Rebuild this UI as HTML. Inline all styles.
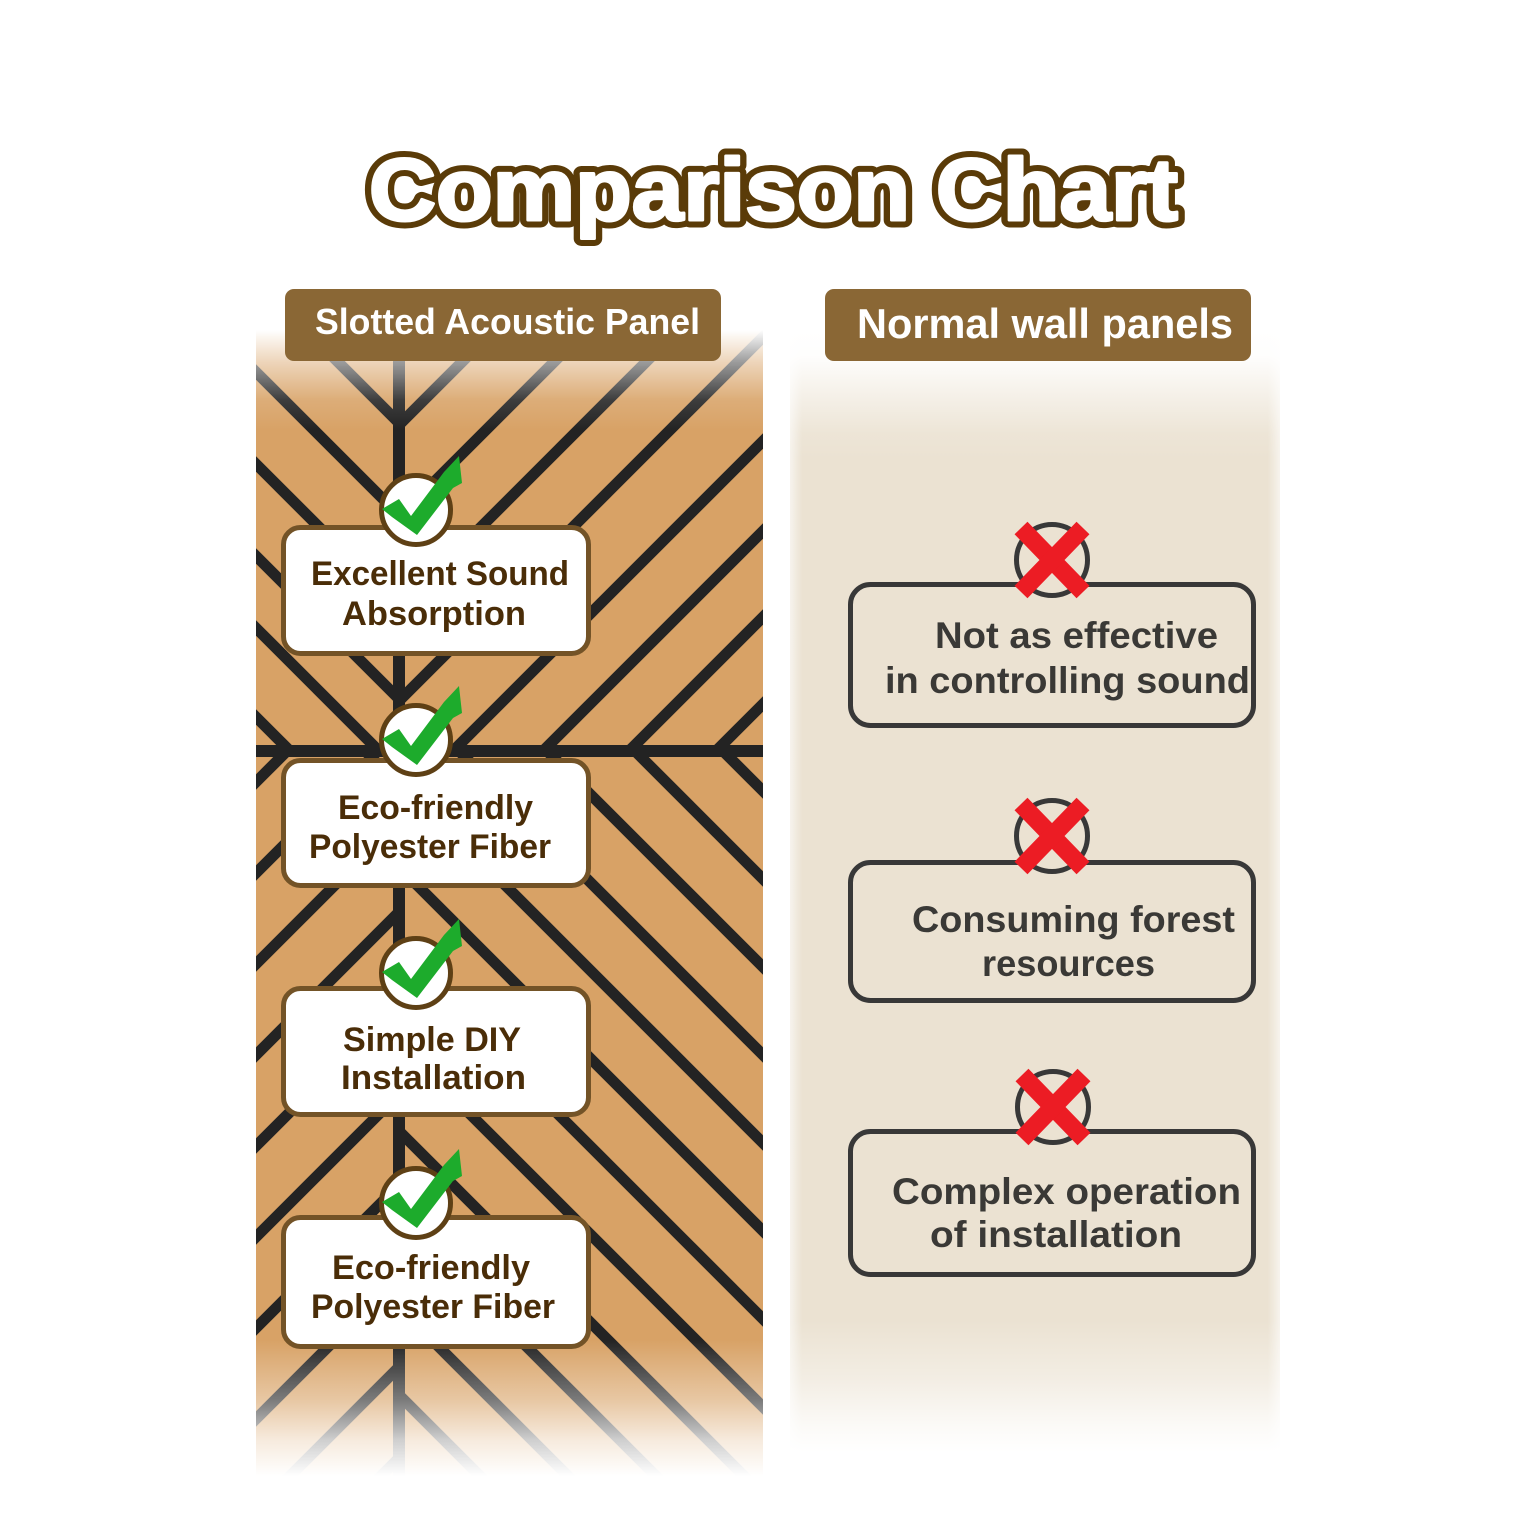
<!DOCTYPE html>
<html><head><meta charset="utf-8">
<style>
html,body{margin:0;padding:0;background:#fff;width:1536px;height:1536px;overflow:hidden;}
svg{display:block;}
text{font-family:"Liberation Sans","DejaVu Sans",sans-serif;font-weight:bold;}
</style></head><body>
<svg width="1536" height="1536" viewBox="0 0 1536 1536" xmlns="http://www.w3.org/2000/svg">
<defs>
 <clipPath id="tl"><rect x="256" y="320" width="143" height="431"/></clipPath>
 <clipPath id="tr"><rect x="399" y="320" width="364" height="431"/></clipPath>
 <clipPath id="bl"><rect x="256" y="751" width="143" height="740"/></clipPath>
 <clipPath id="br"><rect x="399" y="751" width="364" height="740"/></clipPath>
 <linearGradient id="ltop" gradientUnits="userSpaceOnUse" x1="0" y1="300" x2="0" y2="440">
  <stop offset="0" stop-color="#fff" stop-opacity="1"/>
  <stop offset="0.214" stop-color="#fff" stop-opacity="1"/>
  <stop offset="0.443" stop-color="#fff" stop-opacity="0.55"/>
  <stop offset="0.714" stop-color="#fff" stop-opacity="0.12"/>
  <stop offset="0.93" stop-color="#fff" stop-opacity="0"/>
 </linearGradient>
 <linearGradient id="lbot" gradientUnits="userSpaceOnUse" x1="0" y1="1340" x2="0" y2="1500">
  <stop offset="0" stop-color="#fff" stop-opacity="0"/>
  <stop offset="0.375" stop-color="#fff" stop-opacity="0.4"/>
  <stop offset="0.625" stop-color="#fff" stop-opacity="0.78"/>
  <stop offset="0.85" stop-color="#fff" stop-opacity="1"/>
  <stop offset="1" stop-color="#fff" stop-opacity="1"/>
 </linearGradient>
 <linearGradient id="rtop" gradientUnits="userSpaceOnUse" x1="0" y1="330" x2="0" y2="460">
  <stop offset="0" stop-color="#fff" stop-opacity="1"/>
  <stop offset="0.2" stop-color="#fff" stop-opacity="0.95"/>
  <stop offset="0.5" stop-color="#fff" stop-opacity="0.5"/>
  <stop offset="0.8" stop-color="#fff" stop-opacity="0.1"/>
  <stop offset="1" stop-color="#fff" stop-opacity="0"/>
 </linearGradient>
 <linearGradient id="rbot" gradientUnits="userSpaceOnUse" x1="0" y1="1320" x2="0" y2="1470">
  <stop offset="0" stop-color="#fff" stop-opacity="0"/>
  <stop offset="0.4" stop-color="#fff" stop-opacity="0.4"/>
  <stop offset="0.7" stop-color="#fff" stop-opacity="0.82"/>
  <stop offset="0.88" stop-color="#fff" stop-opacity="1"/>
  <stop offset="1" stop-color="#fff" stop-opacity="1"/>
 </linearGradient>
 <linearGradient id="redge" gradientUnits="userSpaceOnUse" x1="790" y1="0" x2="1280" y2="0">
  <stop offset="0" stop-color="#fff" stop-opacity="0.6"/>
  <stop offset="0.025" stop-color="#fff" stop-opacity="0"/>
  <stop offset="0.975" stop-color="#fff" stop-opacity="0"/>
  <stop offset="1" stop-color="#fff" stop-opacity="0.6"/>
 </linearGradient>
</defs>

<rect width="1536" height="1536" fill="#fff"/>

<!-- LEFT WOOD PANEL -->
<rect x="256" y="320" width="507" height="1170" fill="#d8a266"/>
<g stroke="#232323" stroke-width="11" fill="none">
 <g clip-path="url(#tl)">
  <line x1="200" y1="132" x2="420" y2="352"/>
  <line x1="200" y1="224" x2="420" y2="444"/>
  <line x1="200" y1="316" x2="420" y2="536"/>
  <line x1="200" y1="408" x2="420" y2="628"/>
  <line x1="200" y1="500" x2="420" y2="720"/>
  <line x1="200" y1="572" x2="420" y2="792"/>
  <line x1="200" y1="661" x2="420" y2="881"/>
 </g>
 <g clip-path="url(#tr)">
  <line x1="380" y1="444" x2="800" y2="24"/>
  <line x1="380" y1="536" x2="800" y2="116"/>
  <line x1="380" y1="628" x2="800" y2="208"/>
  <line x1="380" y1="720" x2="800" y2="300"/>
  <line x1="380" y1="824" x2="800" y2="404"/>
  <line x1="380" y1="914" x2="800" y2="494"/>
  <line x1="380" y1="1000" x2="800" y2="580"/>
  <line x1="380" y1="1087" x2="800" y2="667"/>
 </g>
 <g clip-path="url(#br)">
  <line x1="380" y1="408" x2="800" y2="828"/>
  <line x1="380" y1="496" x2="800" y2="916"/>
  <line x1="380" y1="584" x2="800" y2="1004"/>
  <line x1="380" y1="672" x2="800" y2="1092"/>
  <line x1="380" y1="760" x2="800" y2="1180"/>
  <line x1="380" y1="848" x2="800" y2="1268"/>
  <line x1="380" y1="936" x2="800" y2="1356"/>
  <line x1="380" y1="1024" x2="800" y2="1444"/>
  <line x1="380" y1="1112" x2="768" y2="1500"/>
  <line x1="380" y1="1200" x2="680" y2="1500"/>
  <line x1="380" y1="1288" x2="592" y2="1500"/>
  <line x1="380" y1="1376" x2="504" y2="1500"/>
  <line x1="380" y1="1464" x2="416" y2="1500"/>
 </g>
 <g clip-path="url(#bl)">
  <line x1="200" y1="838" x2="420" y2="618"/>
  <line x1="200" y1="929" x2="420" y2="709"/>
  <line x1="200" y1="1020" x2="420" y2="800"/>
  <line x1="200" y1="1111" x2="420" y2="891"/>
  <line x1="200" y1="1202" x2="420" y2="982"/>
  <line x1="200" y1="1293" x2="420" y2="1073"/>
  <line x1="200" y1="1384" x2="420" y2="1164"/>
  <line x1="200" y1="1475" x2="420" y2="1255"/>
  <line x1="266" y1="1500" x2="420" y2="1346"/>
  <line x1="357" y1="1500" x2="420" y2="1437"/>
 </g>
</g>
<rect x="393" y="320" width="12" height="1170" fill="#232323"/>
<rect x="256" y="745" width="507" height="12" fill="#232323"/>
<rect x="250" y="300" width="520" height="140" fill="url(#ltop)"/>
<rect x="250" y="1340" width="520" height="160" fill="url(#lbot)"/>

<!-- RIGHT BEIGE PANEL -->
<rect x="790" y="330" width="490" height="1140" fill="#ebe2d2"/>
<rect x="790" y="330" width="490" height="1140" fill="url(#redge)"/>
<rect x="785" y="320" width="500" height="140" fill="url(#rtop)"/>
<rect x="785" y="1320" width="500" height="160" fill="url(#rbot)"/>

<!-- TITLE -->
<text x="369" y="220" font-size="88" textLength="809" lengthAdjust="spacingAndGlyphs" fill="#fff" stroke="#5a3b08" stroke-width="15" stroke-linejoin="round">Comparison Chart</text>
<text x="369" y="220" font-size="88" textLength="809" lengthAdjust="spacingAndGlyphs" fill="#fff" stroke="#fff" stroke-width="3" stroke-linejoin="round">Comparison Chart</text>

<!-- HEADERS -->
<rect x="285" y="289" width="436" height="72" rx="9" fill="#8a6735"/>
<text x="315" y="334" font-size="36" textLength="385" lengthAdjust="spacingAndGlyphs" fill="#fff">Slotted Acoustic Panel</text>
<rect x="825" y="289" width="426" height="72" rx="9" fill="#8a6735"/>
<text x="857" y="338" font-size="42" textLength="376" lengthAdjust="spacingAndGlyphs" fill="#fff">Normal wall panels</text>

<!-- LEFT BOXES -->
<g fill="#fff" stroke="#735327" stroke-width="5">
 <rect x="283.5" y="527.5" width="305" height="126" rx="17"/>
 <rect x="283.5" y="760.5" width="305" height="125" rx="17"/>
 <rect x="283.5" y="988.5" width="305" height="126" rx="17"/>
 <rect x="283.5" y="1217.5" width="305" height="129" rx="17"/>
</g>
<g fill="#4a2d08" font-size="34">
 <text x="311" y="585" textLength="258" lengthAdjust="spacingAndGlyphs">Excellent Sound</text>
 <text x="342" y="625" textLength="184" lengthAdjust="spacingAndGlyphs">Absorption</text>
 <text x="338" y="819" textLength="195" lengthAdjust="spacingAndGlyphs">Eco-friendly</text>
 <text x="309" y="858" textLength="242" lengthAdjust="spacingAndGlyphs">Polyester Fiber</text>
 <text x="343" y="1051" textLength="178" lengthAdjust="spacingAndGlyphs">Simple DIY</text>
 <text x="341" y="1089" textLength="185" lengthAdjust="spacingAndGlyphs">Installation</text>
 <text x="332" y="1279" textLength="198" lengthAdjust="spacingAndGlyphs">Eco-friendly</text>
 <text x="311" y="1318" textLength="244" lengthAdjust="spacingAndGlyphs">Polyester Fiber</text>
</g>

<!-- CHECK ICONS -->
<g transform="translate(416,510)">
 <circle r="34.5" fill="#fff" stroke="#5e4015" stroke-width="5"/>
 <polygon fill="#1dab2c" points="-34,-1 -17,-11 -5,6 28,-38 43,-54 46,-27 37,-22 1,25 -24,7"/>
</g>
<g transform="translate(416,740)">
 <circle r="34.5" fill="#fff" stroke="#5e4015" stroke-width="5"/>
 <polygon fill="#1dab2c" points="-34,-1 -17,-11 -5,6 28,-38 43,-54 46,-27 37,-22 1,25 -24,7"/>
</g>
<g transform="translate(416,973)">
 <circle r="34.5" fill="#fff" stroke="#5e4015" stroke-width="5"/>
 <polygon fill="#1dab2c" points="-34,-1 -17,-11 -5,6 28,-38 43,-54 46,-27 37,-22 1,25 -24,7"/>
</g>
<g transform="translate(416,1203)">
 <circle r="34.5" fill="#fff" stroke="#5e4015" stroke-width="5"/>
 <polygon fill="#1dab2c" points="-34,-1 -17,-11 -5,6 28,-38 43,-54 46,-27 37,-22 1,25 -24,7"/>
</g>

<!-- RIGHT BOXES -->
<g fill="none" stroke="#383838" stroke-width="5">
 <rect x="850.5" y="584.5" width="403" height="141" rx="20"/>
 <rect x="850.5" y="862.5" width="403" height="138" rx="20"/>
 <rect x="850.5" y="1131.5" width="403" height="143" rx="20"/>
</g>
<g fill="#3a3936" font-size="37">
 <text x="935" y="648" textLength="283" lengthAdjust="spacingAndGlyphs">Not as effective</text>
 <text x="885" y="693" textLength="365" lengthAdjust="spacingAndGlyphs">in controlling sound</text>
 <text x="912" y="932" textLength="323" lengthAdjust="spacingAndGlyphs">Consuming forest</text>
 <text x="982" y="976" textLength="173" lengthAdjust="spacingAndGlyphs">resources</text>
 <text x="892" y="1204" textLength="349" lengthAdjust="spacingAndGlyphs">Complex operation</text>
 <text x="930" y="1247" textLength="252" lengthAdjust="spacingAndGlyphs">of installation</text>
</g>

<!-- X ICONS -->
<g transform="translate(1052,560)">
 <circle r="35.5" fill="#ebe2d2" stroke="#383838" stroke-width="5"/>
 <g stroke="#ec1c24" stroke-width="18"><line x1="-31" y1="-32" x2="31" y2="32"/><line x1="31" y1="-32" x2="-31" y2="32"/></g>
</g>
<g transform="translate(1052,836)">
 <circle r="35.5" fill="#ebe2d2" stroke="#383838" stroke-width="5"/>
 <g stroke="#ec1c24" stroke-width="18"><line x1="-31" y1="-32" x2="31" y2="32"/><line x1="31" y1="-32" x2="-31" y2="32"/></g>
</g>
<g transform="translate(1053,1107)">
 <circle r="35.5" fill="#ebe2d2" stroke="#383838" stroke-width="5"/>
 <g stroke="#ec1c24" stroke-width="18"><line x1="-31" y1="-32" x2="31" y2="32"/><line x1="31" y1="-32" x2="-31" y2="32"/></g>
</g>
</svg>
</body></html>
